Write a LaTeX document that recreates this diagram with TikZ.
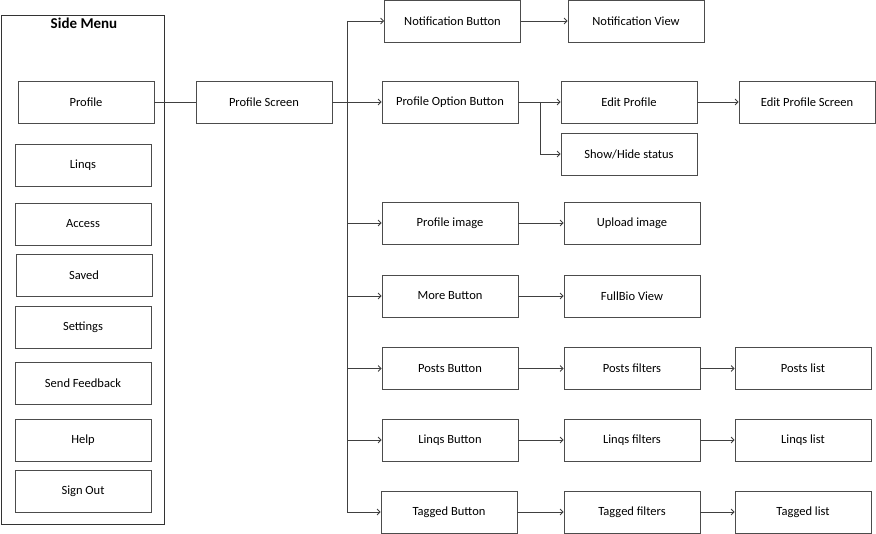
\documentclass[tikz,border=0pt]{standalone}
\usepackage{fontspec}
\setmainfont{Carlito}
\usetikzlibrary{arrows.meta}

\tikzset{
  box/.style={draw=black!70, line width=0.8pt, minimum width=136pt, minimum height=42pt, inner sep=0pt},
  menu/.style={draw=black!80, line width=0.8pt, minimum width=163pt, minimum height=509pt, inner sep=0pt},
  link/.style={draw=black!75, line width=0.8pt},
  arr/.style={link, -{Straight Barb[length=3pt,width=6pt]}}
}

\begin{document}
\begin{tikzpicture}[x=1pt, y=-1pt, font=\fontsize{12.5}{15}\selectfont]
    \useasboundingbox (0,0) rectangle (876,534);
    % side menu
    \node [menu] (side) at (82.5,269.5) {};
    \node [font=\fontsize{15}{18}\selectfont\bfseries] (side_title) at (84,23) {Side Menu};
    \node [box] (profile) at (86,102) {Profile};
    \node [box] (linqs) at (83,165.5) {Linqs};
    \node [box] (access) at (83,224) {Access};
    \node [box] (saved) at (84,275.5) {Saved};
    \node [box] (settings) at (83,327.5) {Settings};
    \node [box] (feedback) at (83,383.5) {Send Feedback};
    \node [box] (help) at (83,440.5) {Help};
    \node [box] (signout) at (83,491.5) {Sign Out};
    % profile screen
    \node [box] (screen) at (264,102) {Profile Screen};
    \coordinate (trunk) at (347,102);
    % buttons
    \node [box] (notif_btn) at (452.5,21) {Notification Button};
    \node [box] (option_btn) at (450,102) {Profile Option Button};
    \node [box] (image_btn) at (450,223) {Profile image};
    \node [box] (more_btn) at (450,296) {More Button};
    \node [box] (posts_btn) at (450,368.5) {Posts Button};
    \node [box] (linqs_btn) at (450,440) {Linqs Button};
    \node [box] (tagged_btn) at (449,512) {Tagged Button};
    % second level
    \node [box] (notif_view) at (636,21) {Notification View};
    \node [box] (edit) at (629,102) {Edit Profile};
    \node [box] (status) at (629,154) {Show/Hide status};
    \node [box] (upload) at (632,223) {Upload image};
    \node [box] (fullbio) at (632,296) {FullBio View};
    \node [box] (posts_f) at (632,368.5) {Posts filters};
    \node [box] (linqs_f) at (632,440) {Linqs filters};
    \node [box] (tagged_f) at (632,512) {Tagged filters};
    % third level
    \node [box] (edit_screen) at (807,102) {Edit Profile Screen};
    \node [box] (posts_l) at (803,368.5) {Posts list};
    \node [box] (linqs_l) at (803,440) {Linqs list};
    \node [box] (tagged_l) at (803,512) {Tagged list};
    \coordinate (fork) at (540,102);

      \draw [link] (profile) -- (screen);
      \draw [link] (notif_btn.west -| trunk) -- (tagged_btn.west -| trunk);
      \draw [arr] (screen) -- (option_btn);
      \foreach \b in {notif_btn,image_btn,more_btn,posts_btn,linqs_btn,tagged_btn}
        \draw [arr] (\b.west -| trunk) -- (\b.west);
      \draw [link] (fork) -- (status.west -| fork);
      \draw [arr] (status.west -| fork) -- (status.west);
      \path[arr]
      (notif_btn) edge (notif_view)
      (option_btn) edge (edit)
      (edit) edge (edit_screen)
      (image_btn) edge (upload)
      (more_btn) edge (fullbio)
      (posts_btn) edge (posts_f)
      (posts_f) edge (posts_l)
      (linqs_btn) edge (linqs_f)
      (linqs_f) edge (linqs_l)
      (tagged_btn) edge (tagged_f)
      (tagged_f) edge (tagged_l)
      ;
\end{tikzpicture}
\end{document}
